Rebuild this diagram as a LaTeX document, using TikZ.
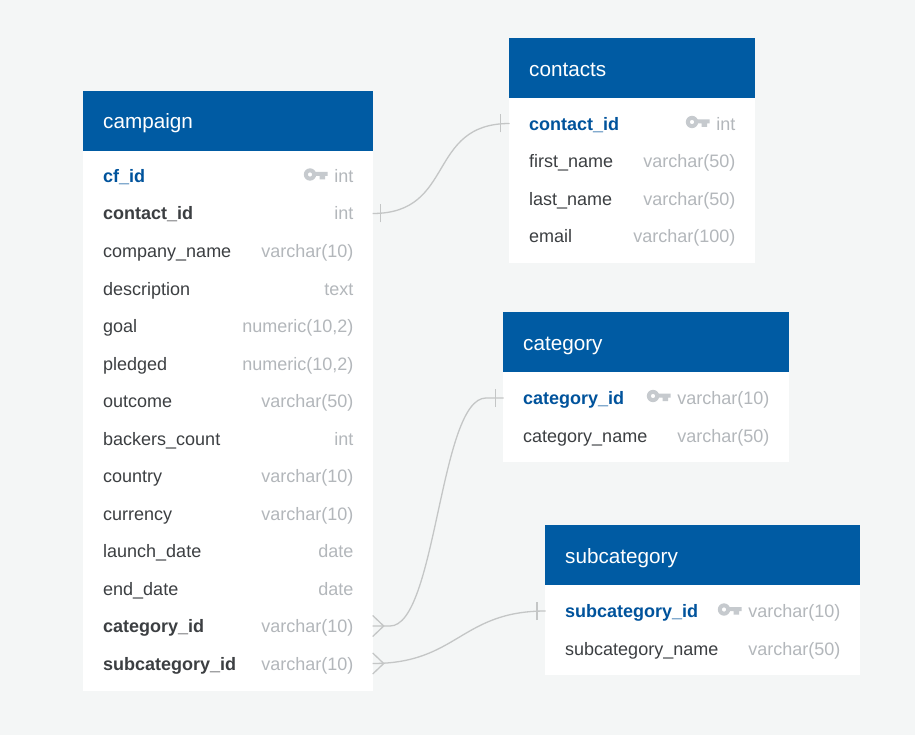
\documentclass[tikz,border=0pt]{standalone}
\usepackage{fontspec}
\setmainfont{Liberation Sans}
\usepackage{xcolor}
\usetikzlibrary{positioning}
\definecolor{pagebg}{HTML}{F4F6F6}
\definecolor{headblue}{HTML}{005BA3}
\definecolor{keyblue}{HTML}{00539C}
\definecolor{fieldgrey}{HTML}{3C3F42}
\definecolor{typegrey}{HTML}{B3B7BB}
\definecolor{keygrey}{HTML}{C6CACE}
\definecolor{linkgrey}{HTML}{C4C6C6}
\tikzset{
    tablebody/.style={fill=white, draw=none, anchor=north west, inner sep=0pt},
    tablehead/.style={fill=headblue, draw=none, anchor=north west, inner sep=0pt, minimum height=59.5pt},
    headtext/.style={text=white, anchor=base west, inner sep=0pt, font=\fontsize{20.7}{24}\selectfont},
    field/.style={text=fieldgrey, anchor=base west, inner sep=0pt, font=\fontsize{18}{22}\selectfont},
    pkfield/.style={field, text=keyblue, font=\fontsize{18}{22}\selectfont\bfseries},
    fkfield/.style={field, text=fieldgrey, font=\fontsize{18}{22}\selectfont\bfseries},
    coltype/.style={text=typegrey, anchor=base east, inner sep=0pt, font=\fontsize{18}{22}\selectfont},
    link/.style={draw=linkgrey, line width=1.3pt},
    endmark/.style={draw=linkgrey, line width=1.3pt},
}
% small key in front of the primary keys, (#1) is the right end of the bit
\newcommand{\keyicon}[1]{
    \fill[keygrey, even odd rule] ([xshift=-17.5pt]#1) circle (6.2pt) ([xshift=-17.5pt]#1) circle (2.2pt);
    \fill[keygrey] ([xshift=-13pt, yshift=2.5pt]#1) -- ([yshift=2.5pt]#1) -- ([yshift=-1.5pt]#1) -- ([xshift=-2.5pt, yshift=-1.5pt]#1) -- ([xshift=-2.5pt, yshift=-5pt]#1) -- ([xshift=-8pt, yshift=-5pt]#1) -- ([xshift=-8pt, yshift=-1.5pt]#1) -- ([xshift=-13pt, yshift=-1.5pt]#1) -- cycle;
}
\begin{document}
\begin{tikzpicture}[x=1pt, y=-1pt]
\useasboundingbox (0,0) rectangle (915,735);
\fill[pagebg] (0,0) rectangle (915,735);

% campaign
\node[tablebody, minimum width=289.7pt, minimum height=600pt] (campaignbody) at (83,91) {};
\node[tablehead, minimum width=289.7pt] (campaignhead) at (83,91) {};
\node[headtext] (campaigntitle) at (103,128.7) {campaign};
\foreach \fname/\ftype/\fstyle [count=\i from 0] in {
    cf_id/int/pkfield, contact_id/int/fkfield, company_name/varchar(10)/field,
    description/text/field, goal/{numeric(10,2)}/field, pledged/{numeric(10,2)}/field,
    outcome/varchar(50)/field, backers_count/int/field, country/varchar(10)/field,
    currency/varchar(10)/field, launch_date/date/field, end_date/date/field,
    category_id/varchar(10)/fkfield, subcategory_id/varchar(10)/fkfield}
{
    \node[\fstyle] (cfield\i) at (103,{182.5+37.5*\i}) {\detokenize\expandafter{\fname}};
    \node[coltype] (ctype\i) at (353.5,{182.5+37.5*\i}) {\ftype};
}
\coordinate (ckey) at (327.5,174.5);
\keyicon{ckey}

% contacts
\node[tablebody, minimum width=245.7pt, minimum height=225pt] (contactsbody) at (509,38) {};
\node[tablehead, minimum width=245.7pt] (contactshead) at (509,38) {};
\node[headtext] (contactstitle) at (529,76.5) {contacts};
\foreach \fname/\ftype/\fstyle [count=\i from 0] in {
    contact_id/int/pkfield, first_name/varchar(50)/field,
    last_name/varchar(50)/field, email/varchar(100)/field}
{
    \node[\fstyle] (tfield\i) at (529,{130.5+37.5*\i}) {\detokenize\expandafter{\fname}};
    \node[coltype] (ttype\i) at (735.5,{130.5+37.5*\i}) {\ftype};
}
\coordinate (tkey) at (709.5,122);
\keyicon{tkey}

% category
\node[tablebody, minimum width=285.7pt, minimum height=150pt] (categorybody) at (503,312) {};
\node[tablehead, minimum width=285.7pt] (categoryhead) at (503,312) {};
\node[headtext] (categorytitle) at (523,350.5) {category};
\foreach \fname/\ftype/\fstyle [count=\i from 0] in {
    category_id/varchar(10)/pkfield, category_name/varchar(50)/field}
{
    \node[\fstyle] (gfield\i) at (523,{404.5+37.5*\i}) {\detokenize\expandafter{\fname}};
    \node[coltype] (gtype\i) at (769.5,{404.5+37.5*\i}) {\ftype};
}
\coordinate (gkey) at (670.5,396);
\keyicon{gkey}

% subcategory
\node[tablebody, minimum width=314.7pt, minimum height=150pt] (subcategorybody) at (545,525) {};
\node[tablehead, minimum width=314.7pt] (subcategoryhead) at (545,525) {};
\node[headtext] (subcategorytitle) at (565,563.5) {subcategory};
\foreach \fname/\ftype/\fstyle [count=\i from 0] in {
    subcategory_id/varchar(10)/pkfield, subcategory_name/varchar(50)/field}
{
    \node[\fstyle] (sfield\i) at (565,{617.5+37.5*\i}) {\detokenize\expandafter{\fname}};
    \node[coltype] (stype\i) at (840.5,{617.5+37.5*\i}) {\ftype};
}
\coordinate (skey) at (741.5,609.5);
\keyicon{skey}

% connector ends
\coordinate (fromcontact) at (372.7,213.5);
\coordinate (tocontact) at (509.5,123.5);
\coordinate (fromcategory) at (372.7,626);
\coordinate (catlow) at (390,626);
\coordinate (cathigh) at (486,398);
\coordinate (tocategory) at (503.5,398);
\coordinate (fromsubcat) at (372.7,663.5);
\coordinate (tosubcat) at (545.5,611);

\path[link] (fromcontact) edge[out=0, in=180, looseness=1.3] (tocontact);
\draw[link] (fromcategory) -- (catlow) to[out=0, in=180, looseness=0.48] (cathigh) -- (tocategory);
\path[link] (fromsubcat) edge[out=0, in=180, looseness=1.2] (tosubcat);

% one-side ticks
\draw[endmark] ([xshift=8pt, yshift=-9pt]fromcontact) -- ([xshift=8pt, yshift=9pt]fromcontact);
\draw[endmark] ([xshift=-9pt, yshift=-9pt]tocontact) -- ([xshift=-9pt, yshift=9pt]tocontact);
\draw[endmark] ([xshift=-8pt, yshift=-9pt]tocategory) -- ([xshift=-8pt, yshift=9pt]tocategory);
\draw[endmark] ([xshift=-8.5pt, yshift=-9pt]tosubcat) -- ([xshift=-8.5pt, yshift=9pt]tosubcat);

% crow feet
\draw[endmark] ([yshift=10.5pt]fromcategory) -- ([xshift=11pt]fromcategory) -- ([yshift=-10.5pt]fromcategory);
\draw[endmark] ([yshift=10.5pt]fromsubcat) -- ([xshift=11pt]fromsubcat) -- ([yshift=-10.5pt]fromsubcat);
\end{tikzpicture}
\end{document}
